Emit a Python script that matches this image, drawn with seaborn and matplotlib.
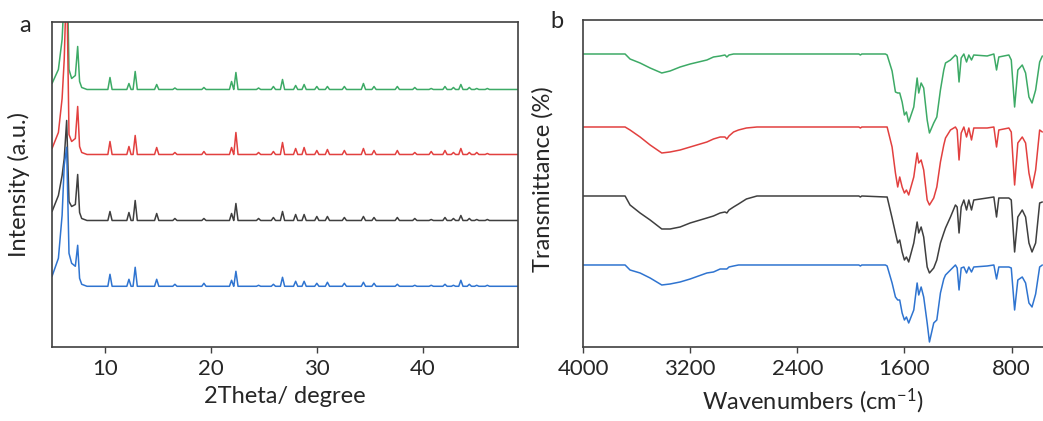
import numpy as np
import pandas as pd
import matplotlib
matplotlib.use("Agg")
import matplotlib.pyplot as plt
import seaborn as sns

# ---------------- panel a: XRD ----------------
# low angle region (main reflection + 7.4 deg peak), heights above each baseline
low_2theta = [5.0, 5.6, 5.95, 6.15, 6.38, 6.6, 6.85, 7.2, 7.42, 7.6, 7.8, 8.3]
low_green = [6, 20, 50, 95, 150, 20, 11, 14, 43, 8, 2, 0]
low_red = [6, 22, 56, 95, 180, 20, 13, 16, 48, 8, 2, 0]
low_black = [9, 25, 45, 62, 100, 19, 14, 16, 46, 8, 2, 0]
low_blue = [10, 28, 71, 121, 139, 33, 23, 20, 41, 8, 2, 0]

# remaining reflections
peak_2theta = [10.47, 12.26, 12.85, 14.88, 16.6, 19.34, 21.95, 22.36, 24.5, 25.9,
               26.76, 28.0, 28.8, 30.0, 31.0, 32.6, 34.4, 35.4, 37.6, 39.25,
               40.8, 42.1, 42.9, 43.6, 44.4, 45.1, 46.1]
peak_green = [12, 6, 18, 5, 1.5, 2, 8, 17, 1.5, 3, 10, 4, 5, 3, 3, 3, 6, 3, 3, 2, 1, 3, 2, 5, 2, 1, 1]
peak_red = [13, 8, 19, 7, 2, 3, 7, 22, 2, 3, 12, 6, 7, 4, 5, 4, 6, 4, 4, 2, 3, 4, 2, 6, 2, 2, 1]
peak_black = [9, 8, 20, 7, 2, 2, 7, 17, 2, 3, 9, 6, 6, 4, 4, 3, 4, 3, 3, 2, 1, 3, 2, 5, 2, 1, 1]
peak_blue = [12, 7, 19, 7, 2, 3, 6, 15, 1, 2, 9, 5, 5, 3, 4, 3, 4, 3, 2, 1, 1, 2, 1, 6, 2, 1, 1]

# ---------------- panel b: FTIR ----------------
ftir_wn = [4000, 3686, 3649, 3574, 3499, 3412, 3350, 3275, 3200, 3075, 3026, 2976,
           2940, 2926, 2910, 2876, 2839, 2780, 2701, 1940, 1929, 1918,
           1742, 1729, 1692, 1667, 1650, 1635, 1617, 1600, 1585, 1568, 1530, 1505,
           1493, 1475, 1456, 1430, 1413, 1381, 1358, 1331, 1306, 1293, 1256, 1219,
           1206, 1192, 1176, 1156, 1136, 1119, 1099, 1082, 982, 932, 912, 895, 820,
           802, 777, 753, 720, 695, 670, 647, 620, 590, 570]
ftir_green = [293, 293, 288, 284, 279, 274, 276, 280, 283, 287, 290, 291, 292, 290, 292, 293, 293, 293, 293, 293, 292, 293,
              293, 292, 276, 255, 254, 254, 245, 232, 235, 225, 240, 269, 254, 264, 259, 227, 214, 224, 230, 257,
              277, 284, 287, 292, 290, 265, 289, 293, 285, 292, 287, 292, 291, 293, 277, 290, 292, 287, 240, 277,
              282, 274, 250, 244, 257, 285, 291]
ftir_red = [220, 220, 217, 210, 202, 194, 195, 197, 200, 205, 208, 210, 210, 208, 211, 215, 217, 219, 220, 220, 219, 220,
            220, 220, 200, 174, 160, 170, 160, 154, 157, 152, 170, 194, 184, 187, 177, 147, 142, 149, 160, 185,
            202, 209, 217, 220, 217, 187, 214, 220, 210, 219, 207, 219, 219, 220, 200, 217, 219, 215, 162, 204,
            210, 204, 174, 159, 177, 217, 215]
ftir_black = [151, 151, 142, 134, 127, 118, 118, 120, 124, 129, 131, 134, 135, 134, 137, 140, 143, 148, 151, 151, 150, 151,
              150, 150, 129, 114, 104, 107, 95, 87, 90, 85, 104, 125, 114, 120, 110, 80, 74, 79, 87, 104,
              114, 119, 130, 142, 140, 114, 140, 147, 137, 147, 137, 147, 149, 150, 130, 149, 149, 147, 95, 130,
              137, 130, 104, 95, 104, 144, 145]
ftir_blue = [82, 82, 77, 74, 69, 62, 63, 65, 68, 74, 75, 78, 78, 78, 80, 81, 82, 82, 82, 82, 81, 82,
             82, 81, 64, 50, 47, 47, 34, 27, 30, 24, 37, 64, 52, 60, 50, 24, 5, 24, 27, 54,
             68, 72, 77, 82, 79, 57, 79, 80, 74, 80, 75, 80, 81, 82, 68, 80, 80, 79, 37, 67,
             70, 64, 44, 40, 53, 80, 82]

colors = {"green": "#3daa66", "red": "#e2403f", "black": "#3f3f3f", "blue": "#2f74d0"}
xrd_offsets = {"green": 257.5, "red": 192.5, "black": 126.5, "blue": 60.7}


def xrd_trace(low_h, peak_h, offset, hw=0.2):
    pts = list(zip(low_2theta, low_h))
    for p, h in zip(peak_2theta, peak_h):
        pts += [(p - hw, 0), (p, h), (p + hw, 0)]
    pts.append((49.0, 0))
    pts.sort()
    x, y = zip(*pts)
    return pd.DataFrame({"x": x, "y": np.array(y, dtype=float) + offset})


sns.set_style("ticks")
plt.rcParams["font.family"] = ["Lato", "DejaVu Sans"]
plt.rcParams["mathtext.default"] = "regular"

fig = plt.figure(figsize=(10.43, 4.21), dpi=100)
ax1 = fig.add_axes([0.0499, 0.1758, 0.4468, 0.772])
ax2 = fig.add_axes([0.559, 0.1758, 0.441, 0.7767])

xrd = {"green": (low_green, peak_green), "red": (low_red, peak_red),
       "black": (low_black, peak_black), "blue": (low_blue, peak_blue)}
for name, (lo, pk) in xrd.items():
    df = xrd_trace(lo, pk, xrd_offsets[name])
    sns.lineplot(data=df, x="x", y="y", ax=ax1, color=colors[name], lw=1.1,
                 sort=False, estimator=None)

ftir = {"green": ftir_green, "red": ftir_red, "black": ftir_black, "blue": ftir_blue}
for name, vals in ftir.items():
    df = pd.DataFrame({"wn": ftir_wn, "t": vals})
    sns.lineplot(data=df, x="wn", y="t", ax=ax2, color=colors[name], lw=1.1,
                 sort=False, estimator=None)

spine_c = "#404040"
ax1.set_xlim(5, 49)
ax1.set_ylim(0, 325)
ax1.set_xticks([10, 20, 30, 40])
ax1.set_yticks([])
ax1.set_xlabel("2Theta/ degree", fontsize=17, labelpad=5)
ax1.set_ylabel("Intensity (a.u.)", fontsize=17)
ax1.yaxis.set_label_coords(-0.047, 0.5)

ax2.set_xlim(4000, 565)
ax2.set_ylim(0, 327)
ax2.set_xticks([4000, 3200, 2400, 1600, 800])
ax2.set_yticks([])
ax2.set_xlabel("Wavenumbers (cm$^{\\mathregular{-1}}$)", fontsize=17, labelpad=5)
ax2.set_ylabel("Transmittance (%)", fontsize=17)
ax2.yaxis.set_label_coords(-0.065, 0.514)
ax2.spines["right"].set_visible(False)

for ax in (ax1, ax2):
    for s in ax.spines.values():
        s.set_color(spine_c)
        s.set_linewidth(1.2)
    ax.tick_params(axis="x", direction="out", length=4, width=1, color=spine_c,
                   labelsize=16, pad=5)

fig.text(0.024, 0.94, "a", fontsize=17, ha="center", va="center")
fig.text(0.534, 0.948, "b", fontsize=17, ha="center", va="center")

fig.savefig("out.png", dpi=100)
